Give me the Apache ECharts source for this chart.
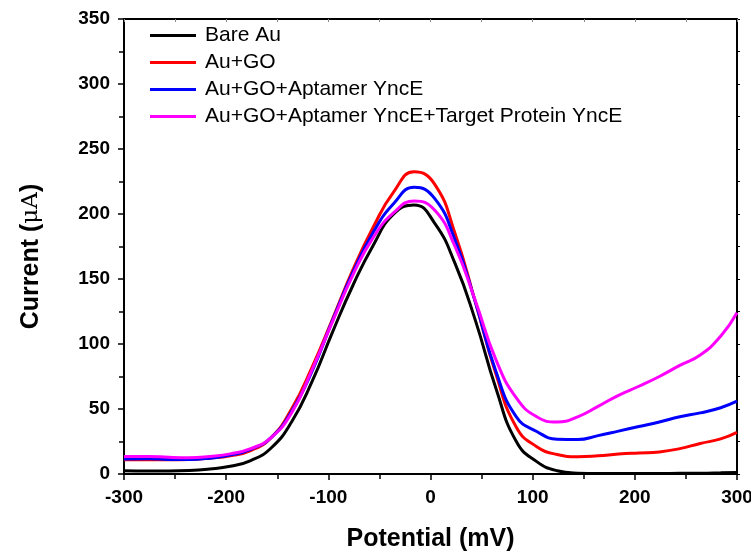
<!DOCTYPE html>
<html>
<head>
<meta charset="utf-8">
<script src="https://cdn.jsdelivr.net/npm/echarts@6/dist/echarts.min.js"></script>
<style>
  html, body { margin: 0; padding: 0; background: #fff; }
  #chart { width: 751px; height: 553px; }
</style>
</head>
<body>
<div id="chart"></div>
<script>
// potential (mV) sample points
const potential = [-300, -276, -256, -236, -216, -196, -176, -156, -136, -116, -96, -76, -56, -36, -16, 4, 24, 44, 64, 84, 104, 124, 144, 164, 184, 204, 224, 244, 264, 284, 300];

// current (uA)
const bareAu = [2.5, 2.3, 2.3, 2.6, 3.8, 6, 10.3, 20, 40, 71, 109, 145, 176, 200, 207, 193, 162, 118, 66, 25, 9.5, 2.5, 0.6, 0.3, 0.3, 0.3, 0.4, 0.5, 0.6, 0.9, 1.2];
const auGO = [11, 11, 11, 11.2, 12.2, 14, 18, 28, 50, 82, 119, 157, 190, 217, 232.5, 223, 185, 132, 77, 36, 21, 15, 13.3, 14, 15.3, 16.2, 17, 19.5, 23.5, 27, 32];
const auGOApt = [11.5, 11.8, 11.2, 11.2, 12.2, 14.5, 19, 28, 48, 79, 118, 155, 186, 208, 220.5, 212, 180, 132, 79, 44, 32.7, 26.8, 26.5, 29.5, 33, 36.5, 40, 44, 47, 51, 56];
const auGOAptTarget = [13.5, 13.5, 12.8, 12.5, 13.5, 15.5, 19.5, 28, 47, 80, 117, 153, 182, 201, 210, 203, 175, 133, 88, 58.5, 44, 40, 44, 52, 60.5, 67.5, 75, 83.5, 91.5, 106, 124];

const seriesNames = ['Bare Au', 'Au+GO', 'Au+GO+Aptamer YncE', 'Au+GO+Aptamer YncE+Target Protein YncE'];
const seriesColors = ['#000000', '#ff0000', '#0000ff', '#ff00ff'];
const seriesValues = [bareAu, auGO, auGOApt, auGOAptTarget];

const xTicks = {min: -300, max: 300, interval: 100};
const yTicks = {min: 0, max: 350, interval: 50};

const font = 'Arial, "Liberation Sans", sans-serif';

const chart = echarts.init(document.getElementById('chart'));

const series = seriesValues.map((vals, i) => ({
    name: seriesNames[i],
    type: 'line',
    data: potential.map((x, j) => [x, vals[j]]),
    smooth: 0.5,
    symbol: 'none',
    lineStyle: {color: seriesColors[i], width: 3},
    itemStyle: {color: seriesColors[i]},
    xAxisIndex: 0,
    yAxisIndex: 0
}));

const option = {
    animation: false,
    backgroundColor: '#fff',
    grid: {left: 124, right: 14, top: 19, bottom: 79, outerBoundsMode: 'none'},
    legend: {
        orient: 'vertical',
        left: 150,
        top: 25,
        padding: 0,
        itemWidth: 46,
        itemHeight: 3,
        itemGap: 6,
        icon: 'rect',
        data: seriesNames,
        textStyle: {fontFamily: font, fontSize: 21, color: '#000', padding: [0, 0, 0, 4]}
    },
    xAxis: [{
        type: 'value',
        min: xTicks.min,
        max: xTicks.max,
        interval: xTicks.interval,
        name: 'Potential (mV)',
        nameLocation: 'middle',
        nameGap: 53,
        nameTextStyle: {fontFamily: font, fontSize: 25, fontWeight: 'bold', color: '#000'},
        axisLine: {onZero: false, lineStyle: {color: '#000', width: 2}},
        axisTick: {inside: false, length: 6, lineStyle: {color: '#000', width: 1.5}},
        minorTick: {show: true, splitNumber: 2, length: 5, lineStyle: {color: '#000', width: 1.5}},
        axisLabel: {fontFamily: font, fontSize: 19, fontWeight: 'bold', color: '#000', margin: 14},
        splitLine: {show: false}
    }, {
        type: 'value',
        position: 'top',
        min: xTicks.min,
        max: xTicks.max,
        interval: xTicks.interval,
        axisLine: {show: true, onZero: false, lineStyle: {color: '#000', width: 2}},
        axisTick: {inside: true, length: 3, lineStyle: {color: '#888'}},
        minorTick: {show: true, splitNumber: 2, length: 3, lineStyle: {color: '#888'}},
        axisLabel: {show: false},
        splitLine: {show: false}
    }],
    yAxis: [{
        type: 'value',
        min: yTicks.min,
        max: yTicks.max,
        interval: yTicks.interval,
        name: '{b|Current (}{m|μA}{b|)}',
        nameLocation: 'middle',
        nameGap: 80,
        nameRotate: 90,
        nameTextStyle: {
            padding: [0, 20, 0, 0],
            rich: {
                b: {fontFamily: font, fontSize: 25, fontWeight: 'bold', color: '#000'},
                m: {fontFamily: '"DejaVu Serif", serif', fontSize: 23, color: '#000'}
            }
        },
        axisLine: {onZero: false, lineStyle: {color: '#000', width: 2}},
        axisTick: {inside: false, length: 6, lineStyle: {color: '#000', width: 1.5}},
        minorTick: {show: true, splitNumber: 2, length: 5, lineStyle: {color: '#000', width: 1.5}},
        axisLabel: {fontFamily: font, fontSize: 19, fontWeight: 'bold', color: '#000', margin: 14},
        splitLine: {show: false}
    }, {
        type: 'value',
        position: 'right',
        min: yTicks.min,
        max: yTicks.max,
        interval: yTicks.interval,
        axisLine: {show: true, onZero: false, lineStyle: {color: '#000', width: 2}},
        axisTick: {inside: false, length: 3, lineStyle: {color: '#000'}},
        minorTick: {show: true, splitNumber: 2, length: 3, lineStyle: {color: '#000'}},
        axisLabel: {show: false},
        splitLine: {show: false}
    }],
    series: series
};

chart.setOption(option);
</script>
</body>
</html>
